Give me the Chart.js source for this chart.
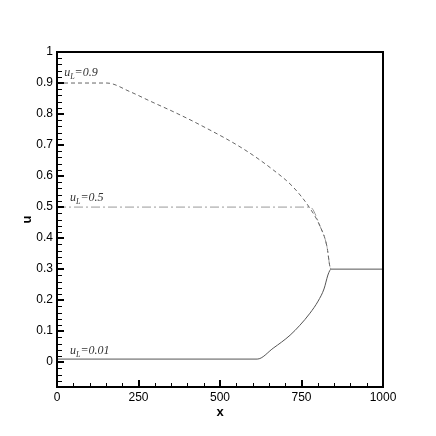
<!DOCTYPE html>
<html>
<head>
<meta charset="utf-8">
<script src="https://cdn.jsdelivr.net/npm/chart.js@4.4.1/dist/chart.umd.min.js"></script>
<style>
  html, body { margin: 0; padding: 0; background: #fff; }
  #wrap { width: 436px; height: 436px; }
</style>
</head>
<body>
<div id="wrap"><canvas id="myChart" width="436" height="436"></canvas></div>
<script>
// u_L = 0.9 (dashed)
const x09 = [0, 153, 224, 285, 362, 439, 571, 663, 724, 776, 807, 828, 837, 840];
const u09 = [0.9, 0.9, 0.872, 0.842, 0.805, 0.765, 0.688, 0.620, 0.565, 0.496, 0.438, 0.373, 0.309, 0.30];

// u_L = 0.5 (dash-dot)
const x05 = [0, 776, 807, 828, 837, 840];
const u05 = [0.5, 0.5, 0.438, 0.373, 0.309, 0.30];

// u_L = 0.01 (solid), right state u = 0.3
const x001 = [0, 614, 663, 715, 745, 776, 801, 819, 831, 837, 840, 1000];
const u001 = [0.01, 0.01, 0.045, 0.087, 0.119, 0.158, 0.197, 0.236, 0.281, 0.296, 0.30, 0.30];

const xTicks = [0, 250, 500, 750, 1000];
const uTicks = [0, 0.1, 0.2, 0.3, 0.4, 0.5, 0.6, 0.7, 0.8, 0.9, 1];

// curve labels: [text after u_L, x, u]
const curveLabels = [
  ['=0.9', 22, 0.922],
  ['=0.5', 40, 0.519],
  ['=0.01', 40, 0.026]
];

const ctx = document.getElementById('myChart');

function pts(xs, ys) {
  return xs.map((x, i) => ({ x: x, y: ys[i] }));
}

// inward ticks, frame and the u_L labels
const framePlugin = {
  id: 'frame',
  afterDraw(chart) {
    const c = chart.ctx;
    const a = chart.chartArea;
    const sx = chart.scales.x;
    const sy = chart.scales.y;
    c.save();
    c.strokeStyle = '#000';

    // minor ticks
    c.lineWidth = 1;
    c.beginPath();
    for (let v = 50; v < 1000; v += 50) {
      if (v % 250 == 0) continue;
      const px = Math.round(sx.getPixelForValue(v)) + 0.5;
      c.moveTo(px, a.bottom);
      c.lineTo(px, a.bottom - 4);
    }
    for (let k = -4; k <= 50; k++) {
      if (k % 5 == 0) continue;
      const py = Math.round(sy.getPixelForValue(k * 0.02)) + 0.5;
      c.moveTo(a.left, py);
      c.lineTo(a.left + 5, py);
    }
    c.stroke();

    // major ticks
    c.lineWidth = 2;
    c.beginPath();
    xTicks.forEach(v => {
      const px = Math.round(sx.getPixelForValue(v));
      c.moveTo(px, a.bottom);
      c.lineTo(px, a.bottom - 7);
    });
    uTicks.forEach(v => {
      const py = Math.round(sy.getPixelForValue(v));
      c.moveTo(a.left, py);
      c.lineTo(a.left + 7, py);
    });
    c.stroke();

    // box
    c.lineWidth = 2;
    c.strokeRect(a.left, a.top, a.right - a.left, a.bottom - a.top);

    // labels
    c.fillStyle = '#333';
    c.textBaseline = 'alphabetic';
    curveLabels.forEach(l => {
      let px = sx.getPixelForValue(l[1]);
      const py = sy.getPixelForValue(l[2]);
      c.font = 'italic 12px "Liberation Serif"';
      c.fillText('u', px, py);
      px += c.measureText('u').width;
      c.font = 'italic 8px "Liberation Serif"';
      c.fillText('L', px, py + 3);
      px += c.measureText('L').width;
      c.font = 'italic 12px "Liberation Serif"';
      c.fillText(l[0], px, py);
    });
    c.restore();
  }
};

new Chart(ctx, {
  type: 'line',
  data: {
    datasets: [
      {
        label: 'u_L=0.9',
        data: pts(x09, u09),
        borderColor: '#666',
        borderWidth: 1,
        borderDash: [4, 3],
        pointRadius: 0,
        cubicInterpolationMode: 'monotone'
      },
      {
        label: 'u_L=0.5',
        data: pts(x05, u05),
        borderColor: '#999',
        borderWidth: 1,
        borderDash: [9, 3, 2, 3],
        pointRadius: 0,
        cubicInterpolationMode: 'monotone'
      },
      {
        label: 'u_L=0.01',
        data: pts(x001, u001),
        borderColor: '#555',
        borderWidth: 1,
        pointRadius: 0,
        cubicInterpolationMode: 'monotone'
      }
    ]
  },
  options: {
    responsive: false,
    animation: false,
    events: [],
    layout: {
      padding: { top: 52, right: 53, left: 0, bottom: 0 }
    },
    plugins: {
      legend: { display: false },
      tooltip: { enabled: false }
    },
    scales: {
      x: {
        type: 'linear',
        min: 0,
        max: 1000,
        grid: { display: false, drawTicks: false },
        border: { display: false },
        afterBuildTicks: s => { s.ticks = xTicks.map(v => ({ value: v })); },
        afterFit: s => { s.height = 49; },
        ticks: {
          padding: 3,
          color: '#000',
          maxRotation: 0,
          font: { family: '"Liberation Sans", Arial, sans-serif', size: 12 },
          callback: v => String(v)
        },
        title: {
          display: true,
          text: 'x',
          color: '#000',
          padding: { top: 0, bottom: 16 },
          font: { family: '"Liberation Sans", Arial, sans-serif', size: 13, weight: 'bold' }
        }
      },
      y: {
        type: 'linear',
        min: -0.08,
        max: 1,
        grid: { display: false, drawTicks: false },
        border: { display: false },
        afterBuildTicks: s => { s.ticks = uTicks.map(v => ({ value: v })); },
        afterFit: s => { s.width = 57; },
        ticks: {
          padding: 4,
          color: '#000',
          font: { family: '"Liberation Sans", Arial, sans-serif', size: 12 },
          callback: v => String(Number(v.toFixed(1)))
        },
        title: {
          display: true,
          text: 'u',
          color: '#000',
          padding: { top: 20, bottom: 0 },
          font: { family: '"Liberation Sans", Arial, sans-serif', size: 13, weight: 'bold' }
        }
      }
    }
  },
  plugins: [framePlugin]
});
</script>
</body>
</html>
